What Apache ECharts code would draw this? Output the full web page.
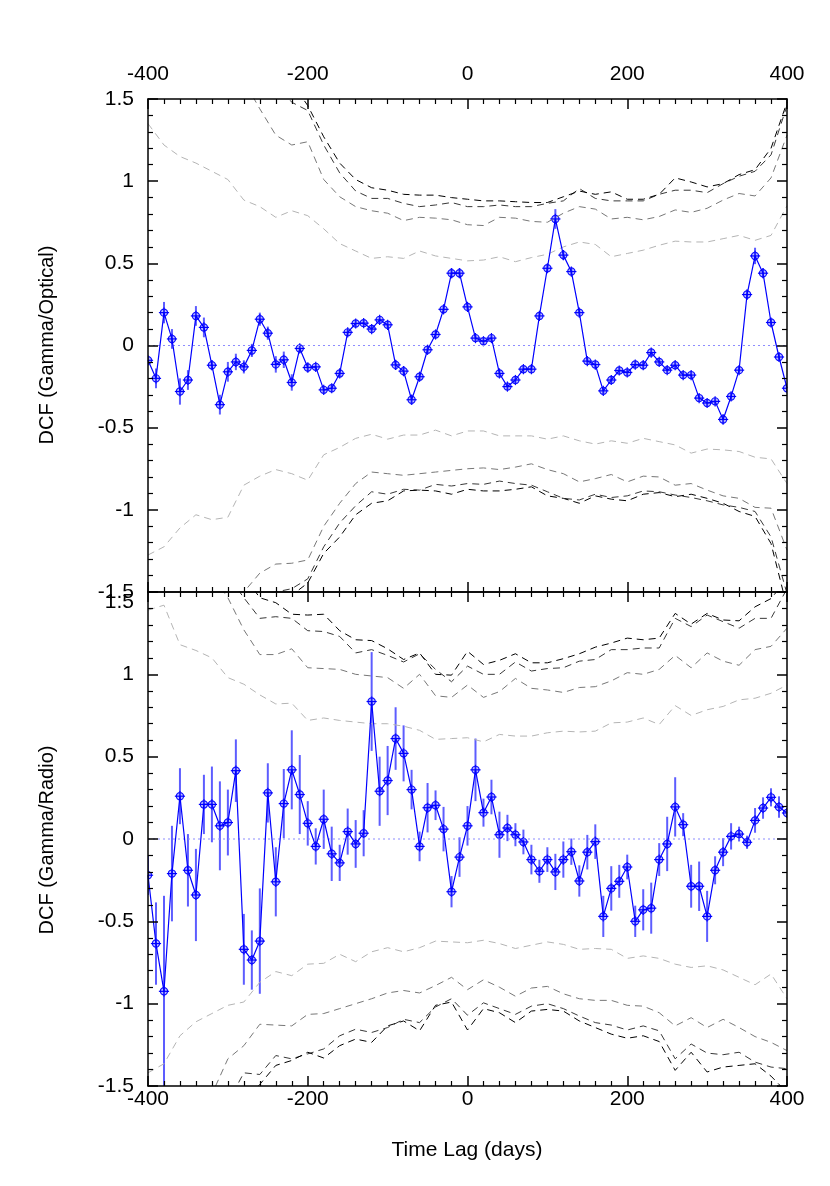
<!DOCTYPE html>
<html>
<head>
<meta charset="utf-8">
<script src="https://cdn.jsdelivr.net/npm/echarts@6/dist/echarts.min.js"></script>
<style>
  html, body { margin: 0; padding: 0; background: #fff; }
  #wrap { position: relative; width: 830px; height: 1186px; }
  #plot, #frame { position: absolute; left: 0; top: 0; width: 830px; height: 1186px; }
</style>
</head>
<body>
<div id="wrap">
  <div id="plot"></div>
  <div id="frame"></div>
</div>
<script>
// time lags (days) of the DCF points
const lags = [-400,-390,-380,-370,-360,-350,-340,-330,-320,-310,-300,-290,-280,-270,-260,-250,-240,-230,-220,-210,
  -200,-190,-180,-170,-160,-150,-140,-130,-120,-110,-100,-90,-80,-70,-60,-50,-40,-30,-20,-10,
  0,10,20,30,40,50,60,70,80,90,100,110,120,130,140,150,160,170,180,190,
  200,210,220,230,240,250,260,270,280,290,300,310,320,330,340,350,360,370,380,390,400];

// gamma / optical DCF
const dcfOptical = [-0.09,-0.20,0.20,0.04,-0.28,-0.21,0.18,0.11,-0.12,-0.36,-0.16,-0.10,-0.13,-0.03,0.16,0.075,-0.115,-0.087,-0.225,-0.018,
  -0.134,-0.13,-0.27,-0.26,-0.17,0.08,0.134,0.136,0.10,0.156,0.126,-0.118,-0.156,-0.33,-0.19,-0.026,0.067,0.22,0.44,0.44,
  0.235,0.045,0.026,0.045,-0.17,-0.25,-0.21,-0.144,-0.144,0.18,0.47,0.77,0.55,0.45,0.20,-0.095,-0.116,-0.276,-0.21,-0.152,
  -0.164,-0.116,-0.12,-0.043,-0.10,-0.15,-0.12,-0.18,-0.18,-0.32,-0.35,-0.34,-0.45,-0.31,-0.15,0.31,0.545,0.44,0.14,-0.07,-0.26];
const errOptical = [0.02,0.06,0.065,0.06,0.08,0.06,0.06,0.06,0.03,0.06,0.06,0.05,0.04,0.04,0.04,0.04,0.05,0.05,0.05,0.02,
  0.03,0.02,0.02,0.02,0.02,0.02,0.02,0.02,0.02,0.02,0.02,0.03,0.03,0.03,0.02,0.02,0.02,0.02,0.03,0.03,
  0.02,0.02,0.02,0.02,0.02,0.02,0.02,0.02,0.02,0.02,0.02,0.06,0.03,0.02,0.02,0.02,0.02,0.02,0.02,0.02,
  0.02,0.02,0.02,0.02,0.02,0.02,0.02,0.02,0.02,0.02,0.02,0.02,0.03,0.02,0.02,0.03,0.05,0.03,0.02,0.02,0.02];

// gamma / radio DCF
const dcfRadio = [-0.22,-0.635,-0.925,-0.21,0.26,-0.19,-0.34,0.21,0.21,0.08,0.10,0.415,-0.67,-0.735,-0.62,0.28,-0.26,0.215,0.42,0.27,
  0.095,-0.045,0.12,-0.09,-0.145,0.045,-0.03,0.035,0.835,0.29,0.355,0.61,0.52,0.30,-0.045,0.19,0.205,0.06,-0.32,-0.11,
  0.08,0.42,0.16,0.255,0.026,0.067,0.026,-0.018,-0.125,-0.196,-0.125,-0.20,-0.125,-0.077,-0.255,-0.08,-0.016,-0.47,-0.30,-0.257,
  -0.17,-0.50,-0.43,-0.42,-0.125,-0.03,0.195,0.087,-0.287,-0.287,-0.47,-0.19,-0.08,0.016,0.03,-0.02,0.113,0.188,0.253,0.194,0.158];
const errRadio = [0.12,0.25,0.58,0.29,0.17,0.22,0.28,0.18,0.23,0.27,0.20,0.19,0.215,0.18,0.32,0.18,0.21,0.21,0.24,0.24,
  0.135,0.11,0.18,0.165,0.11,0.14,0.145,0.14,0.30,0.21,0.21,0.19,0.17,0.12,0.09,0.15,0.09,0.135,0.095,0.12,
  0.12,0.19,0.085,0.105,0.14,0.08,0.07,0.075,0.09,0.07,0.075,0.11,0.11,0.08,0.095,0.105,0.105,0.125,0.135,0.10,
  0.075,0.095,0.125,0.155,0.10,0.165,0.18,0.07,0.13,0.15,0.155,0.085,0.085,0.08,0.045,0.04,0.075,0.065,0.055,0.065,0.03];

// lags of the simulated significance curves
const sigLags = [-400,-380,-360,-340,-320,-300,-280,-260,-240,-220,-200,-180,-160,-140,-120,-100,-80,-60,-40,-20,
  0,20,40,60,80,100,120,140,160,180,200,220,240,260,280,300,320,340,360,380,400];

// significance levels, gamma / optical
const optUp1 = [1.35,1.22,1.15,1.11,1.06,1.01,0.885,0.845,0.78,0.82,0.79,0.71,0.62,0.575,0.53,0.54,0.53,0.575,0.545,0.53,
  0.515,0.52,0.54,0.51,0.535,0.555,0.60,0.63,0.615,0.54,0.56,0.58,0.61,0.635,0.63,0.63,0.65,0.67,0.64,0.67,0.85];
const optUp2 = [2.4,2.3,2.2,2.05,1.9,1.75,1.61,1.44,1.28,1.22,1.24,1.01,0.905,0.845,0.82,0.805,0.76,0.78,0.775,0.765,
  0.735,0.73,0.78,0.775,0.755,0.75,0.805,0.845,0.83,0.77,0.78,0.765,0.785,0.825,0.81,0.835,0.885,0.925,0.91,1.02,1.28];
const optUp3 = [3.0,2.9,2.8,2.6,2.4,2.2,2.0,1.8,1.6,1.48,1.43,1.22,1.05,0.94,0.895,0.895,0.865,0.845,0.855,0.87,
  0.845,0.845,0.855,0.845,0.845,0.865,0.88,0.955,0.895,0.88,0.88,0.88,0.92,0.945,0.945,0.93,0.985,1.03,1.06,1.16,1.46];
const optUp4 = [3.2,3.1,3.0,2.8,2.6,2.4,2.2,2.0,1.8,1.6,1.46,1.27,1.11,1.01,0.96,0.945,0.92,0.915,0.915,0.90,
  0.89,0.88,0.88,0.875,0.87,0.87,0.905,0.94,0.92,0.935,0.89,0.89,0.92,1.02,0.995,0.965,0.985,1.04,1.07,1.20,1.48];
const optLo1 = [-1.275,-1.225,-1.11,-1.03,-1.06,-1.045,-0.85,-0.795,-0.755,-0.78,-0.82,-0.665,-0.62,-0.565,-0.54,-0.57,-0.545,-0.545,-0.515,-0.55,
  -0.52,-0.52,-0.55,-0.55,-0.55,-0.57,-0.55,-0.58,-0.60,-0.58,-0.595,-0.565,-0.585,-0.605,-0.655,-0.63,-0.635,-0.645,-0.68,-0.69,-0.84];
const optLo2 = [-2.2,-2.1,-2.0,-1.9,-1.75,-1.62,-1.5,-1.385,-1.33,-1.325,-1.305,-1.10,-0.96,-0.84,-0.77,-0.78,-0.79,-0.78,-0.77,-0.76,
  -0.75,-0.745,-0.755,-0.74,-0.72,-0.755,-0.78,-0.83,-0.81,-0.785,-0.83,-0.795,-0.80,-0.85,-0.84,-0.88,-0.915,-0.93,-0.985,-0.99,-1.245];
const optLo3 = [-2.6,-2.5,-2.4,-2.3,-2.2,-2.0,-1.6,-1.52,-1.5,-1.48,-1.42,-1.225,-1.08,-0.975,-0.89,-0.905,-0.875,-0.88,-0.845,-0.855,
  -0.84,-0.845,-0.825,-0.84,-0.85,-0.89,-0.93,-0.94,-0.905,-0.925,-0.915,-0.885,-0.89,-0.91,-0.925,-0.945,-0.97,-0.985,-1.01,-1.165,-1.51];
const optLo4 = [-2.8,-2.7,-2.6,-2.5,-2.4,-2.2,-2.0,-1.6,-1.55,-1.52,-1.445,-1.265,-1.165,-1.03,-0.96,-0.945,-0.885,-0.88,-0.885,-0.905,
  -0.875,-0.885,-0.885,-0.875,-0.86,-0.915,-0.93,-0.96,-0.915,-0.935,-0.945,-0.905,-0.895,-0.92,-0.905,-0.93,-0.96,-1.01,-1.04,-1.205,-1.59];

// significance levels, gamma / radio
const radUp1 = [1.39,1.42,1.18,1.145,1.10,0.98,0.94,0.875,0.82,0.825,0.72,0.735,0.72,0.71,0.70,0.70,0.685,0.66,0.605,0.61,
  0.615,0.59,0.635,0.625,0.625,0.645,0.655,0.65,0.655,0.705,0.71,0.735,0.695,0.81,0.75,0.785,0.805,0.845,0.855,0.885,0.935];
const radUp2 = [2.1,2.0,1.9,1.75,1.6,1.465,1.27,1.12,1.12,1.155,1.04,1.035,1.03,1.00,0.99,0.98,0.915,1.00,0.87,0.86,
  0.935,0.86,0.895,0.975,0.915,0.905,0.89,0.92,0.925,0.96,1.01,1.00,1.03,1.115,1.04,1.13,1.08,1.055,1.15,1.17,1.28];
const radUp3 = [2.6,2.5,2.4,2.2,2.0,1.6,1.465,1.34,1.35,1.34,1.265,1.26,1.23,1.13,1.15,1.115,1.075,1.125,1.03,0.955,
  1.05,1.00,1.00,1.075,1.02,1.035,1.04,1.08,1.09,1.15,1.15,1.16,1.16,1.34,1.29,1.36,1.32,1.28,1.34,1.34,1.52];
const radUp4 = [2.8,2.7,2.6,2.4,2.2,1.9,1.6,1.465,1.435,1.365,1.36,1.365,1.265,1.21,1.205,1.155,1.09,1.13,1.00,0.995,
  1.14,1.06,1.085,1.125,1.07,1.07,1.095,1.125,1.165,1.19,1.22,1.21,1.22,1.37,1.305,1.37,1.33,1.325,1.41,1.46,1.58];
const radLo1 = [-1.42,-1.365,-1.195,-1.11,-1.06,-1.01,-0.99,-0.87,-0.805,-0.83,-0.76,-0.755,-0.70,-0.745,-0.685,-0.66,-0.685,-0.66,-0.62,-0.625,
  -0.63,-0.615,-0.635,-0.665,-0.645,-0.625,-0.64,-0.67,-0.665,-0.67,-0.725,-0.71,-0.725,-0.76,-0.78,-0.77,-0.795,-0.84,-0.885,-0.82,-0.97];
const radLo2 = [-2.1,-2.0,-1.85,-1.7,-1.55,-1.335,-1.255,-1.125,-1.13,-1.135,-1.065,-1.06,-1.03,-1.00,-0.97,-0.935,-0.92,-0.935,-0.89,-0.84,
  -0.915,-0.855,-0.90,-0.955,-0.905,-0.895,-0.94,-0.97,-0.98,-0.98,-1.01,-1.015,-1.055,-1.135,-1.085,-1.145,-1.095,-1.145,-1.20,-1.235,-1.285];
const radLo3 = [-2.5,-2.4,-2.2,-2.0,-1.8,-1.6,-1.42,-1.43,-1.315,-1.335,-1.305,-1.275,-1.195,-1.155,-1.175,-1.145,-1.095,-1.115,-1.02,-0.97,
  -1.07,-0.995,-1.03,-1.065,-1.015,-1.00,-1.03,-1.075,-1.115,-1.13,-1.16,-1.135,-1.165,-1.335,-1.245,-1.30,-1.31,-1.295,-1.355,-1.385,-1.395];
const radLo4 = [-2.7,-2.6,-2.4,-2.2,-2.0,-1.8,-1.6,-1.49,-1.375,-1.345,-1.295,-1.33,-1.255,-1.215,-1.235,-1.135,-1.105,-1.165,-1.01,-0.99,
  -1.16,-1.03,-1.055,-1.115,-1.045,-1.035,-1.045,-1.105,-1.145,-1.185,-1.21,-1.195,-1.23,-1.405,-1.295,-1.415,-1.385,-1.375,-1.365,-1.44,-1.54];

const xTicks = [-400, -200, 0, 200, 400];
const yTicks = [-1.5, -1, -0.5, 0, 0.5, 1, 1.5];

const FONT = 'Liberation Sans, Arial, Helvetica, sans-serif';
const FS = 21;
const sigColors = ['#b4b4b4', '#777777', '#383838', '#000000'];

const grids = [
  { left: 148, top: 99, width: 639, height: 493 },
  { left: 148, top: 592, width: 639, height: 494 }
];

// ---- frame: axes with inward ticks on every side (gnuplot style) ----
const baseAxis = (showLabel, minorSplit) => ({
  type: 'value',
  axisLine: { show: true, onZero: false, lineStyle: { color: '#000', width: 1.5 } },
  axisTick: { show: true, inside: true, length: 10, lineStyle: { color: '#000', width: 1.5 } },
  minorTick: { show: true, splitNumber: minorSplit, length: 5, lineStyle: { color: '#000', width: 1.2 } },
  splitLine: { show: false },
  axisLabel: { show: showLabel, color: '#000', fontSize: FS, fontFamily: FONT }
});

const xAxisFor = (gridIndex, position, showLabel, margin) => {
  const a = baseAxis(showLabel, 10);
  return Object.assign(a, {
    gridIndex, position,
    min: xTicks[0], max: xTicks[xTicks.length - 1], interval: 200,
    axisLabel: Object.assign(a.axisLabel, { margin })
  });
};

const yAxisFor = (gridIndex, position, showLabel, shiftTop) => {
  const a = baseAxis(showLabel, 5);
  const label = Object.assign(a.axisLabel, { margin: 14 });
  if (shiftTop) {
    // bottom panel's 1.5 sits just under the top panel's -1.5
    label.formatter = v => (v === 1.5 ? '\n1.5' : String(v));
  }
  return Object.assign(a, {
    gridIndex, position,
    min: yTicks[0], max: yTicks[yTicks.length - 1], interval: 0.5,
    axisLabel: label
  });
};

const frame = echarts.init(document.getElementById('frame'));
frame.setOption({
  animation: false,
  grid: grids,
  xAxis: [
    xAxisFor(0, 'bottom', false, 8),
    xAxisFor(0, 'top', true, 14),
    xAxisFor(1, 'top', false, 8),
    xAxisFor(1, 'bottom', true, 3)
  ],
  yAxis: [
    yAxisFor(0, 'left', true, false),
    yAxisFor(0, 'right', false, false),
    yAxisFor(1, 'left', true, true),
    yAxisFor(1, 'right', false, false)
  ],
  graphic: [
    { type: 'text', x: 47, y: 345, rotation: Math.PI / 2,
      style: { text: 'DCF (Gamma/Optical)', font: '20px ' + FONT, fill: '#000', align: 'center', verticalAlign: 'middle' } },
    { type: 'text', x: 47, y: 840, rotation: Math.PI / 2,
      style: { text: 'DCF (Gamma/Radio)', font: '20px ' + FONT, fill: '#000', align: 'center', verticalAlign: 'middle' } },
    { type: 'text', x: 467, y: 1150,
      style: { text: 'Time Lag (days)', font: FS + 'px ' + FONT, fill: '#000', align: 'center', verticalAlign: 'middle' } }
  ],
  series: []
});

// ---- plot: the data, on hidden axes with the same scales ----
const hiddenX = g => ({ type: 'value', gridIndex: g, show: false, min: xTicks[0], max: xTicks[xTicks.length - 1] });
const hiddenY = g => ({ type: 'value', gridIndex: g, show: false, min: yTicks[0], max: yTicks[yTicks.length - 1] });

const pairs = (xs, ys) => xs.map((x, i) => [x, ys[i]]);

const sigSeries = (curves, gi) => curves.map((c, k) => ({
  type: 'line',
  xAxisIndex: gi, yAxisIndex: gi,
  data: pairs(sigLags, c),
  showSymbol: false,
  silent: true,
  clip: true,
  lineStyle: { color: sigColors[k % 4], width: 1, type: [7, 5] }
}));

const zeroSeries = gi => ({
  type: 'line',
  xAxisIndex: gi, yAxisIndex: gi,
  data: [[xTicks[0], 0], [xTicks[xTicks.length - 1], 0]],
  showSymbol: false,
  silent: true,
  lineStyle: { color: '#8c8cff', width: 1.2, type: [2, 3] }
});

const renderPoint = (params, api) => {
  const x = api.value(0), y = api.value(1), e = api.value(2);
  const p = api.coord([x, y]);
  const hi = api.coord([x, y + e]);
  const lo = api.coord([x, y - e]);
  const r = 3.6;
  return {
    type: 'group',
    children: [
      { type: 'line', shape: { x1: p[0], y1: hi[1], x2: p[0], y2: lo[1] },
        style: { stroke: 'rgba(30,30,255,0.72)', lineWidth: 2 } },
      { type: 'line', shape: { x1: p[0], y1: p[1] - r - 1.5, x2: p[0], y2: p[1] + r + 1.5 },
        style: { stroke: '#0000ff', lineWidth: 1.2 } },
      { type: 'circle', shape: { cx: p[0], cy: p[1], r },
        style: { stroke: '#1010ff', fill: 'rgba(70,70,255,0.35)', lineWidth: 1.2 } },
      { type: 'line', shape: { x1: p[0] - r - 1.5, y1: p[1], x2: p[0] + r + 1.5, y2: p[1] },
        style: { stroke: '#0000ff', lineWidth: 1.2 } }
    ]
  };
};

const dataSeries = (vals, errs, gi) => [
  {
    type: 'line',
    xAxisIndex: gi, yAxisIndex: gi,
    data: pairs(lags, vals),
    showSymbol: false,
    clip: true,
    lineStyle: { color: '#0000ff', width: 1.2 }
  },
  {
    type: 'custom',
    xAxisIndex: gi, yAxisIndex: gi,
    data: lags.map((x, i) => [x, vals[i], errs[i]]),
    renderItem: renderPoint,
    clip: true
  }
];

const plot = echarts.init(document.getElementById('plot'));
plot.setOption({
  animation: false,
  grid: grids,
  xAxis: [hiddenX(0), hiddenX(1)],
  yAxis: [hiddenY(0), hiddenY(1)],
  series: [
    ...sigSeries([optUp1, optUp2, optUp3, optUp4, optLo1, optLo2, optLo3, optLo4], 0),
    zeroSeries(0),
    ...dataSeries(dcfOptical, errOptical, 0),
    ...sigSeries([radUp1, radUp2, radUp3, radUp4, radLo1, radLo2, radLo3, radLo4], 1),
    zeroSeries(1),
    ...dataSeries(dcfRadio, errRadio, 1)
  ]
});
</script>
</body>
</html>
